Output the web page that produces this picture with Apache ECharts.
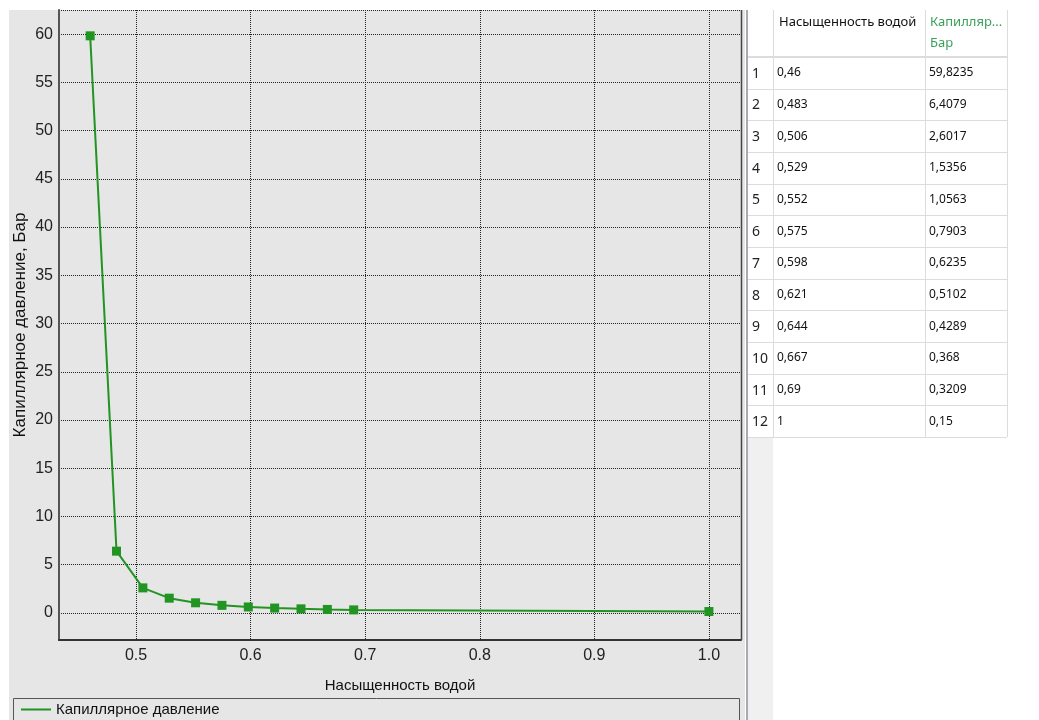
<!DOCTYPE html>
<html>
<head>
<meta charset="utf-8">
<script src="https://cdn.jsdelivr.net/npm/echarts@6/dist/echarts.min.js"></script>
<style>
html,body{margin:0;padding:0;background:#fff;}
#chart{width:1039px;height:720px;}
</style>
</head>
<body>
<div id="chart"></div>
<script>
// ---- data ----
const saturation = [0.46, 0.483, 0.506, 0.529, 0.552, 0.575, 0.598, 0.621, 0.644, 0.667, 0.69, 1];
const pressure = [59.8235, 6.4079, 2.6017, 1.5356, 1.0563, 0.7903, 0.6235, 0.5102, 0.4289, 0.368, 0.3209, 0.15];
const seriesName = 'Капиллярное давление';
const xAxisTitle = 'Насыщенность водой';
const yAxisTitle = 'Капиллярное давление, Бар';
const tableHeaders = ['Насыщенность водой', 'Капилляр...\nБар'];

// ---- layout / style ----
const FONT = '"Liberation Sans", Arial, sans-serif';
const TFONT = '"Noto Sans", "Open Sans", sans-serif';
const GREEN = '#229422';
const PANEL = '#e6e6e6';
const plot = { left: 59, top: 10, right: 741, bottom: 640 };
const tbl = { x0: 748, c1: 773, c2: 925, x1: 1007, top: 10, headBottom: 57, rowH: 31.67 };

const chart = echarts.init(document.getElementById('chart'), null, { renderer: 'canvas' });

const fmt = v => String(v).replace('.', ',');

const graphics = [];
graphics.push({ type: 'rect', z: -10, shape: { x: 9, y: 10, width: 736, height: 710 }, style: { fill: PANEL } });
graphics.push({ type: 'rect', z: -10, shape: { x: 746, y: 10, width: 2, height: 710 }, style: { fill: '#a9a9b2' } });
graphics.push({ type: 'line', z: 5, shape: { x1: plot.right + 0.5, y1: plot.top, x2: plot.right + 0.5, y2: plot.bottom }, style: { stroke: '#444', lineWidth: 1.5 } });
const tableBottom = tbl.headBottom + tbl.rowH * saturation.length;
graphics.push({ type: 'rect', z: -10, shape: { x: tbl.x0, y: tableBottom, width: tbl.c1 - tbl.x0, height: 720 - tableBottom }, style: { fill: '#f0f0f0' } });
graphics.push({ type: 'rect', z: -5, shape: { x: 13.5, y: 698.5, width: 726, height: 40 }, style: { fill: PANEL, stroke: '#555', lineWidth: 1 } });

const lineColor = '#dcdcdc';
[tbl.c1, tbl.c2, tbl.x1].forEach(x => {
  graphics.push({ type: 'line', shape: { x1: x + 0.5, y1: tbl.top, x2: x + 0.5, y2: tableBottom }, style: { stroke: lineColor, lineWidth: 1 } });
});
graphics.push({ type: 'line', shape: { x1: tbl.x0, y1: tbl.headBottom, x2: tbl.x1, y2: tbl.headBottom }, style: { stroke: lineColor, lineWidth: 2 } });
for (let i = 1; i <= saturation.length; i++) {
  const y = Math.round(tbl.headBottom + tbl.rowH * i) + 0.5;
  graphics.push({ type: 'line', shape: { x1: tbl.x0, y1: y, x2: tbl.x1, y2: y }, style: { stroke: lineColor, lineWidth: 1 } });
}
graphics.push({ type: 'text', style: { text: tableHeaders[0], x: tbl.c1 + 6, y: 22, font: '13px ' + TFONT, fill: '#111', verticalAlign: 'middle' } });
graphics.push({ type: 'text', style: { text: tableHeaders[1], x: tbl.c2 + 5, y: 12, font: '13px ' + TFONT, fill: '#3c9f5a', lineHeight: 21, verticalAlign: 'top' } });
saturation.forEach((s, i) => {
  const cy = tbl.headBottom + tbl.rowH * (i + 0.5);
  graphics.push({ type: 'text', style: { text: String(i + 1), x: 752, y: cy + 1, font: '14px ' + TFONT, fill: '#222', verticalAlign: 'middle' } });
  graphics.push({ type: 'text', style: { text: fmt(s), x: tbl.c1 + 4, y: cy, font: '12px ' + TFONT, fill: '#111', verticalAlign: 'middle' } });
  graphics.push({ type: 'text', style: { text: fmt(pressure[i]), x: tbl.c2 + 4, y: cy, font: '12px ' + TFONT, fill: '#111', verticalAlign: 'middle' } });
});

const option = {
  backgroundColor: '#ffffff',
  animation: false,
  graphic: { elements: graphics },
  grid: {
    left: plot.left, top: plot.top, right: 1039 - plot.right, bottom: 720 - plot.bottom,
    outerBoundsMode: 'none', containLabel: false,
    show: true, backgroundColor: PANEL, borderWidth: 0
  },
  legend: {
    left: 21, top: 702, padding: 0, icon: 'rect', itemWidth: 30, itemHeight: 2,
    data: [seriesName],
    textStyle: { fontFamily: FONT, fontSize: 15, color: '#111' }
  },
  xAxis: {
    type: 'value', min: 0.4328, max: 1.028, splitNumber: 6, minInterval: 0.1, maxInterval: 0.1,
    name: xAxisTitle, nameLocation: 'middle', nameGap: 38, nameMoveOverlap: false,
    nameTextStyle: { fontFamily: FONT, fontSize: 15, color: '#111' },
    axisLine: { show: true, onZero: false, lineStyle: { color: '#333', width: 2 } },
    axisTick: { show: false },
    axisLabel: { showMinLabel: false, showMaxLabel: false, margin: 8, fontFamily: FONT, fontSize: 16, color: '#222', formatter: v => v.toFixed(1) },
    splitLine: { show: true, lineStyle: { type: 'dotted', color: '#222', width: 1 } }
  },
  yAxis: {
    type: 'value', min: -2.8, max: 62.5, splitNumber: 13, minInterval: 5, maxInterval: 5,
    name: yAxisTitle, nameLocation: 'middle', nameGap: 30, nameMoveOverlap: false,
    nameTextStyle: { fontFamily: FONT, fontSize: 17, color: '#111' },
    axisLine: { show: true, onZero: false, lineStyle: { color: '#555', width: 2 } },
    axisTick: { show: false },
    axisLabel: { showMinLabel: false, showMaxLabel: false, margin: 6, fontFamily: FONT, fontSize: 16, color: '#222' },
    splitLine: { show: true, lineStyle: { type: 'dotted', color: '#222', width: 1 } }
  },
  series: [{
    name: seriesName, type: 'line',
    data: saturation.map((s, i) => [s, pressure[i]]),
    symbol: 'rect', symbolSize: 9, showSymbol: true,
    itemStyle: { color: GREEN },
    lineStyle: { color: GREEN, width: 2 }
  }]
};
chart.setOption(option);
</script>
</body>
</html>
